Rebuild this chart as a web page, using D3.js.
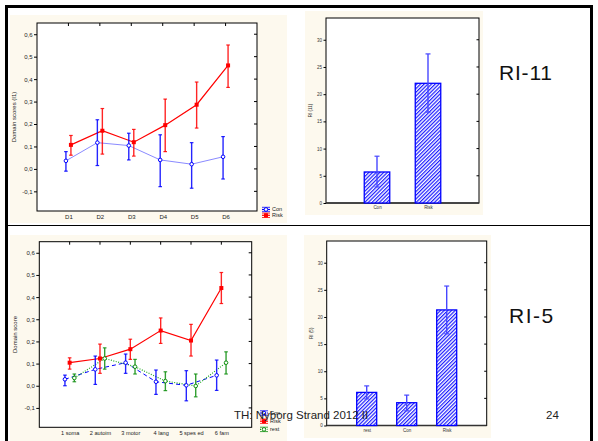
<!DOCTYPE html>
<html><head><meta charset="utf-8">
<script src="https://cdn.jsdelivr.net/npm/d3@7"></script>
<style>body{margin:0;background:#fff}svg{display:block}text{font-family:"Liberation Sans",Arial,sans-serif}</style>
</head><body><svg id="c" width="598" height="441"></svg>
<script>
// ---- data ----
const domainsA = ["D1","D2","D3","D4","D5","D6"];
const conA   = [0.036,0.117,0.104,0.040,0.021,0.054];
const conALo = [-0.010,0.015,0.040,-0.079,-0.086,-0.045];
const conAHi = [0.077,0.219,0.159,0.152,0.117,0.144];
const riskA   = [0.107,0.170,0.119,0.195,0.286,0.461];
const riskALo = [0.061,0.066,0.057,0.077,0.182,0.363];
const riskAHi = [0.149,0.269,0.176,0.311,0.387,0.552];

const domainsB = ["1 soma","2 autoim","3 motor","4 lang","5 spes ed","6 fam"];
const conB   = [0.029,0.074,0.104,0.018,0.002,0.047];
const conBLo = [0.000,0.006,0.056,-0.039,-0.068,-0.021];
const conBHi = [0.048,0.134,0.143,0.071,0.068,0.116];
const riskB   = [0.104,0.123,0.165,0.249,0.204,0.441];
const riskBLo = [0.075,0.056,0.119,0.191,0.134,0.371];
const riskBHi = [0.126,0.188,0.210,0.306,0.277,0.511];
const restB   = [0.035,0.123,0.086,0.021,-0.001,0.104];
const restBLo = [0.018,0.075,0.053,-0.022,-0.050,0.053];
const restBHi = [0.053,0.171,0.119,0.063,0.053,0.153];

const scoreTicks = [-0.1,0,0.1,0.2,0.3,0.4,0.5,0.6];
const riTicks = [0,5,10,15,20,25,30];

const groupsA = ["Con","Risk"];
const riA   = [5.7,22.0];
const riALo = [2.95,16.7];
const riAHi = [8.6,27.4];

const groupsB = ["rest","Con","Risk"];
const riB   = [6.1,4.2,21.3];
const riBLo = [4.9,2.7,16.9];
const riBHi = [7.3,5.6,25.7];

// ---- drawing ----
const svg = d3.select("#c");
const beige = "#fdf9ee";
const loc = d3.formatLocale({decimal:",",thousands:" ",grouping:[3],currency:["",""],minus:"-"});
const fmt = loc.format(".1f");

svg.append("rect").attr("width",598).attr("height",441).attr("fill","#fff");

// hatch pattern
const defs = svg.append("defs");
const pat = defs.append("pattern").attr("id","hatch").attr("patternUnits","userSpaceOnUse")
  .attr("width",2.6).attr("height",2.6).attr("patternTransform","rotate(45)");
pat.append("rect").attr("width",2.6).attr("height",2.6).attr("fill","#fff");
pat.append("line").attr("x1",0.6).attr("y1",0).attr("x2",0.6).attr("y2",2.6)
  .attr("stroke","#1a1aff").attr("stroke-width",1.2);

// beige panels
[[10,15,277,208],[305,11,178,204],[10,235,277,206],[304,235,187,203]].forEach(r=>{
  svg.append("rect").attr("x",r[0]).attr("y",r[1]).attr("width",r[2]).attr("height",r[3]).attr("fill",beige);
});

function marker(g, type, x, y, color){
  if(type==="square"){
    g.append("rect").attr("x",x-2).attr("y",y-2).attr("width",4).attr("height",4).attr("fill",color);
  } else {
    g.append("circle").attr("cx",x).attr("cy",y).attr("r",1.8).attr("fill","#fff")
      .attr("stroke",color).attr("stroke-width",1);
  }
}

function lineChart(box, cats, series, ylabel, ylabX, legend, xFont){
  const g = svg.append("g");
  const x = d3.scalePoint().domain(cats).range([box.x0, box.x1]).padding(1);
  const y = d3.scaleLinear().domain([-0.1875, 0.65]).range([box.y1, box.y0]);
  g.append("rect").attr("x",box.x0).attr("y",box.y0).attr("width",box.x1-box.x0)
    .attr("height",box.y1-box.y0).attr("fill","#fff").attr("stroke","#000").attr("stroke-width",1);
  const ya = g.append("g").attr("transform",`translate(${box.x0},0)`)
    .call(d3.axisLeft(y).tickValues(scoreTicks).tickSize(3).tickPadding(1.5).tickFormat(fmt));
  ya.select(".domain").remove();
  ya.selectAll("text").attr("font-size",6).attr("fill","#222").attr("font-family","Liberation Sans, Arial");
  g.selectAll(".rt").data(scoreTicks).join("line").attr("x1",box.x1-3).attr("x2",box.x1)
    .attr("y1",d=>y(d)).attr("y2",d=>y(d)).attr("stroke","#000").attr("stroke-width",1);
  g.selectAll(".tt").data(cats).join("line").attr("x1",d=>x(d)).attr("x2",d=>x(d))
    .attr("y1",box.y0).attr("y2",box.y0+3).attr("stroke","#000").attr("stroke-width",1);
  const xa = g.append("g").attr("transform",`translate(0,${box.y1})`)
    .call(d3.axisBottom(x).tickSize(0).tickPadding(4));
  xa.select(".domain").remove();
  xa.selectAll("text").attr("font-size",xFont).attr("fill","#222").attr("font-family","Liberation Sans, Arial");
  g.append("text").attr("transform",`translate(${ylabX},${(box.y0+box.y1)/2}) rotate(-90)`)
    .attr("text-anchor","middle").attr("font-size",6).attr("fill","#222").text(ylabel);

  series.forEach(s=>{
    const pts = cats.map((c,i)=>({x:x(c)+s.off, m:s.mean[i], lo:s.lo[i], hi:s.hi[i]}));
    const line = d3.line().x(d=>d.x).y(d=>y(d.m));
    g.append("path").attr("d",line(pts)).attr("fill","none").attr("stroke",s.lineColor)
      .attr("stroke-width",s.lw).attr("stroke-dasharray",s.dash||null);
  });
  series.forEach(s=>{
    const pts = cats.map((c,i)=>({x:x(c)+s.off, m:s.mean[i], lo:s.lo[i], hi:s.hi[i]}));
    pts.forEach(p=>{
      g.append("line").attr("x1",p.x).attr("x2",p.x).attr("y1",y(p.lo)).attr("y2",y(p.hi))
        .attr("stroke",s.color).attr("stroke-width",1.4).attr("opacity",0.85);
      [p.lo,p.hi].forEach(v=>g.append("line").attr("x1",p.x-1.8).attr("x2",p.x+1.8)
        .attr("y1",y(v)).attr("y2",y(v)).attr("stroke",s.color).attr("stroke-width",1.2).attr("opacity",0.85));
    });
    pts.forEach(p=>marker(g,s.marker,p.x,y(p.m),s.color));
  });
  series.forEach((s,i)=>{
    const ly = legend.y + i*legend.dy;
    const lx = legend.x;
    g.append("line").attr("x1",lx).attr("x2",lx+8).attr("y1",ly).attr("y2",ly)
      .attr("stroke",s.color).attr("stroke-width",1.2).attr("stroke-dasharray",s.dash||null);
    g.append("line").attr("x1",lx).attr("x2",lx+8).attr("y1",ly-2.2).attr("y2",ly-2.2).attr("stroke",s.color).attr("stroke-width",0.8);
    g.append("line").attr("x1",lx).attr("x2",lx+8).attr("y1",ly+2.2).attr("y2",ly+2.2).attr("stroke",s.color).attr("stroke-width",0.8);
    g.append("line").attr("x1",lx+4).attr("x2",lx+4).attr("y1",ly-2.2).attr("y2",ly+2.2).attr("stroke",s.color).attr("stroke-width",0.8);
    marker(g,s.marker,lx+4,ly,s.color);
    g.append("text").attr("x",lx+10).attr("y",ly+1.8).attr("font-size",5.5).attr("fill","#222").text(s.name);
  });
}

function barChart(box, groups, vals, lo, hi, ylabel, ylabX){
  const g = svg.append("g");
  const x = d3.scalePoint().domain(groups).range([box.x0, box.x1]).padding(1);
  const y = d3.scaleLinear().domain([0,34]).range([box.y1, box.y0]);
  const bw = x.step()*0.5;
  g.append("rect").attr("x",box.x0).attr("y",box.y0).attr("width",box.x1-box.x0)
    .attr("height",box.y1-box.y0).attr("fill","#fff").attr("stroke","#000").attr("stroke-width",1);
  const ya = g.append("g").attr("transform",`translate(${box.x0},0)`)
    .call(d3.axisLeft(y).tickValues(riTicks).tickSize(2.5).tickPadding(1.5));
  ya.select(".domain").remove();
  ya.selectAll("text").attr("font-size",4.5).attr("fill","#333").attr("font-family","Liberation Sans, Arial");
  g.selectAll(".rt").data(riTicks.slice(1)).join("line").attr("x1",box.x1-2.5).attr("x2",box.x1)
    .attr("y1",d=>y(d)).attr("y2",d=>y(d)).attr("stroke","#000").attr("stroke-width",1);
  const xa = g.append("g").attr("transform",`translate(0,${box.y1})`)
    .call(d3.axisBottom(x).tickSize(0).tickPadding(3));
  xa.select(".domain").remove();
  xa.selectAll("text").attr("font-size",4.5).attr("fill","#333").attr("font-family","Liberation Sans, Arial");
  g.append("line").attr("x1",box.x0).attr("x2",box.x1).attr("y1",box.y1).attr("y2",box.y1)
    .attr("stroke","#333").attr("stroke-width",1.6);
  g.append("text").attr("transform",`translate(${ylabX},${(box.y0+box.y1)/2}) rotate(-90)`)
    .attr("text-anchor","middle").attr("font-size",4.5).attr("fill","#333").text(ylabel);
  groups.forEach((c,i)=>{
    g.append("rect").attr("x",x(c)-bw/2).attr("y",y(vals[i])).attr("width",bw)
      .attr("height",y(0)-y(vals[i])).attr("fill","url(#hatch)").attr("stroke","#0000ff").attr("stroke-width",1.3);
  });
  groups.forEach((c,i)=>{
    const cx = x(c);
    g.append("line").attr("x1",cx).attr("x2",cx).attr("y1",y(lo[i])).attr("y2",y(hi[i]))
      .attr("stroke","#4747ff").attr("stroke-width",1.4);
    [lo[i],hi[i]].forEach(v=>g.append("line").attr("x1",cx-2.5).attr("x2",cx+2.5)
      .attr("y1",y(v)).attr("y2",y(v)).attr("stroke","#4747ff").attr("stroke-width",1.2));
  });
}

lineChart({x0:37,x1:257,y0:23,y1:211}, domainsA, [
  {name:"Con", mean:conA, lo:conALo, hi:conAHi, color:"#0000ff", lineColor:"#8a8aff", lw:1, marker:"circle", off:-2.5},
  {name:"Risk", mean:riskA, lo:riskALo, hi:riskAHi, color:"#ff0000", lineColor:"#ff0000", lw:1.2, marker:"square", off:2.5}
], "Domain scores (I1)", 16, {x:262, y:209.5, dy:5.8}, 6);

lineChart({x0:39.3,x1:251.7,y0:241.7,y1:427.3}, domainsB, [
  {name:"Con", mean:conB, lo:conBLo, hi:conBHi, color:"#0000ff", lineColor:"#0000ff", lw:1, dash:"4,3", marker:"circle", off:-4.7},
  {name:"Risk", mean:riskB, lo:riskBLo, hi:riskBHi, color:"#ff0000", lineColor:"#ff0000", lw:1.2, marker:"square", off:0},
  {name:"rest", mean:restB, lo:restBLo, hi:restBHi, color:"#109010", lineColor:"#22aa22", lw:1.2, dash:"1,1.5", marker:"circle", off:4.7}
], "Domain score", 17, {x:260, y:413, dy:8.2}, 5.6);

barChart({x0:326,x1:479,y0:18,y1:203}, groupsA, riA, riALo, riAHi, "RI (11)", 312);
barChart({x0:326.7,x1:486.7,y0:241,y1:425.5}, groupsB, riB, riBLo, riBHi, "RI (5)", 313);

// titles
svg.append("text").attr("x",499).attr("y",80).attr("font-size",21).attr("letter-spacing",0.8)
  .attr("font-family","DejaVu Sans").attr("fill","#111").text("RI-11");
svg.append("text").attr("x",509).attr("y",323).attr("font-size",21).attr("letter-spacing",1.5)
  .attr("font-family","DejaVu Sans").attr("fill","#111").text("RI-5");

// slide frame
svg.append("rect").attr("x",5).attr("y",5).attr("width",588).attr("height",3).attr("fill","#000");
svg.append("rect").attr("x",5).attr("y",5).attr("width",3).attr("height",436).attr("fill","#000");
svg.append("rect").attr("x",590).attr("y",5).attr("width",3).attr("height",436).attr("fill","#000");
svg.append("line").attr("x1",8).attr("x2",590).attr("y1",225.5).attr("y2",225.5).attr("stroke","#000").attr("stroke-width",1);

// footer
svg.append("text").attr("x",234).attr("y",419).attr("font-size",11.5).attr("fill","#222").text("TH: Nyborg Strand 2012 II");
svg.append("text").attr("x",546).attr("y",419).attr("font-size",11.5).attr("fill","#222").text("24");
</script></body></html>
